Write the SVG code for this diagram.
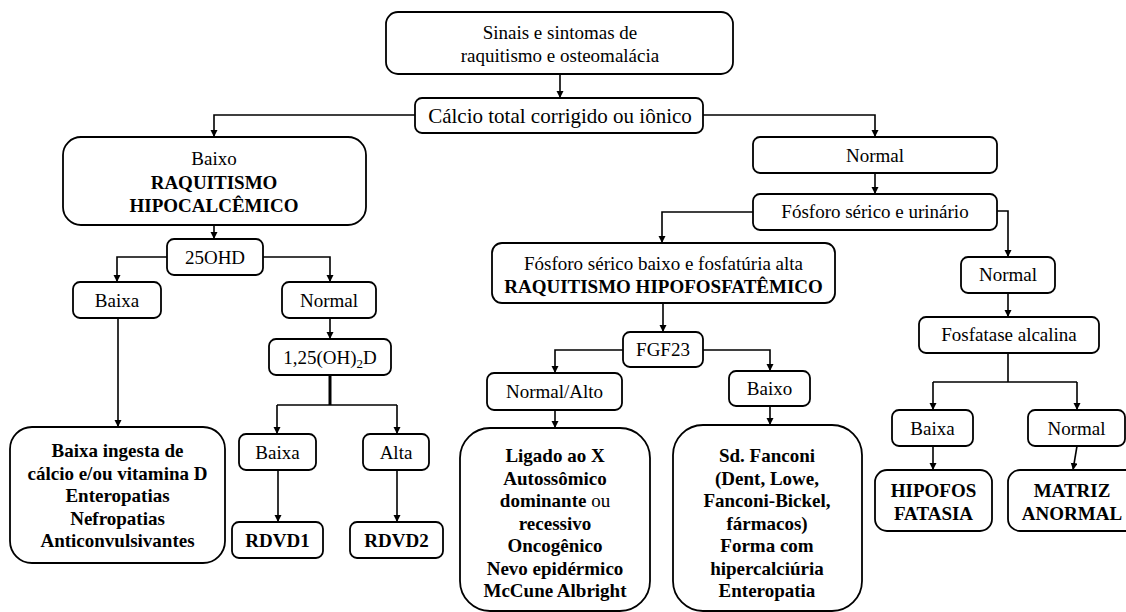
<svg xmlns="http://www.w3.org/2000/svg" width="1126" height="612" viewBox="0 0 1126 612">
<style>
.b{fill:#fff;stroke:#000;stroke-width:1.8}
.t{font-size:19px;fill:#000;text-anchor:middle}
.bd{font-weight:bold}
.c{fill:none;stroke:#000;stroke-width:1.6}
.ca{fill:none;stroke:#000;stroke-width:1.6;marker-end:url(#ah)}
</style>
<defs>
<marker id="ah" markerUnits="userSpaceOnUse" markerWidth="8" markerHeight="8" refX="7" refY="3.5" orient="auto">
<path d="M0,0 L7,3.5 L0,7 z" fill="#000"/>
</marker>
</defs>
<rect width="1126" height="612" fill="#fff"/>
<g id="connectors">
<path class="ca" d="M560,75 V98"/>
<path class="ca" d="M415,115 H214 V137"/>
<path class="ca" d="M703,115 H875 V137"/>
<path class="ca" d="M214,225 V239"/>
<path class="ca" d="M167,257 H117 V282"/>
<path class="ca" d="M263,257 H330 V282"/>
<path class="ca" d="M118,318 V427"/>
<path class="ca" d="M330,318 V339"/>
<path class="c" style="stroke-width:3" d="M330,375 V405"/>
<path class="c" d="M277,405 H397"/>
<path class="ca" d="M277,405 V434"/>
<path class="ca" d="M397,405 V434"/>
<path class="ca" d="M278,470 V522"/>
<path class="ca" d="M397,470 V522"/>
<path class="ca" d="M875,173 V194"/>
<path class="ca" d="M753,212 H662 V243"/>
<path class="ca" d="M997,211 H1008 V257"/>
<path class="ca" d="M663,303 V332"/>
<path class="ca" d="M623,350 H555 V373"/>
<path class="ca" d="M703,350 H770 V371"/>
<path class="ca" d="M555,410 V428"/>
<path class="ca" d="M770,406 V425"/>
<path class="ca" d="M1008,293 V317"/>
<path class="c" d="M1008,353 V382 M933,382 H1077"/>
<path class="ca" d="M933,382 V410"/>
<path class="ca" d="M1077,382 V410"/>
<path class="ca" d="M933,446 V470"/>
<path class="ca" d="M1077,446 L1073,470"/>
</g>
<g font-family="'Liberation Serif', 'DejaVu Serif', 'Times New Roman', serif">
<g id="n-top"><rect class="b" x="386" y="12" width="347" height="62" rx="12"/>
<text class="t" x="560" y="39">Sinais e sintomas de</text><text class="t" x="560" y="62">raquitismo e osteomalácia</text></g>
<g id="n-calcio"><rect class="b" x="415" y="98" width="288" height="35" rx="7"/>
<text class="t" x="560" y="122.5" style="font-size:21px">Cálcio total corrigido ou iônico</text></g>
<g id="n-baixo"><rect class="b" x="63" y="137" width="303" height="88" rx="18"/>
<text class="t" x="214" y="165">Baixo</text><text class="t bd" x="214" y="189">RAQUITISMO</text><text class="t bd" x="214" y="212">HIPOCALCÊMICO</text></g>
<g id="n-25ohd"><rect class="b" x="167" y="239" width="96" height="36" rx="7"/>
<text class="t" x="215" y="264">25OHD</text></g>
<g id="n-baixa1"><rect class="b" x="73" y="282" width="88" height="36" rx="7"/>
<text class="t" x="117" y="307">Baixa</text></g>
<g id="n-normal1"><rect class="b" x="282" y="282" width="94" height="36" rx="7"/>
<text class="t" x="329" y="307">Normal</text></g>
<g id="n-ingesta"><rect class="b" x="10" y="427" width="215" height="136" rx="22"/>
<text class="t bd" x="117.5" y="457">Baixa ingesta de</text><text class="t bd" x="117.5" y="479.5">cálcio e/ou vitamina D</text><text class="t bd" x="117.5" y="502">Enteropatias</text><text class="t bd" x="117.5" y="524.5">Nefropatias</text><text class="t bd" x="117.5" y="547">Anticonvulsivantes</text></g>
<g id="n-125"><rect class="b" x="269" y="339" width="122" height="36" rx="7"/>
<text class="t" x="330" y="364">1,25(OH)<tspan font-size="13" dy="4">2</tspan><tspan dy="-4">D</tspan></text></g>
<g id="n-baixa2"><rect class="b" x="239" y="434" width="77" height="36" rx="7"/>
<text class="t" x="277.5" y="459">Baixa</text></g>
<g id="n-alta"><rect class="b" x="363" y="434" width="66" height="36" rx="7"/>
<text class="t" x="396" y="459">Alta</text></g>
<g id="n-rdvd1"><rect class="b" x="232" y="522" width="91" height="36" rx="7"/>
<text class="t bd" x="277.5" y="547">RDVD1</text></g>
<g id="n-rdvd2"><rect class="b" x="350" y="522" width="93" height="36" rx="7"/>
<text class="t bd" x="396.5" y="547">RDVD2</text></g>
<g id="n-normal-top"><rect class="b" x="753" y="137" width="244" height="36" rx="7"/>
<text class="t" x="875" y="162">Normal</text></g>
<g id="n-fosforo"><rect class="b" x="753" y="194" width="244" height="36" rx="7"/>
<text class="t" x="875" y="218">Fósforo sérico e urinário</text></g>
<g id="n-hipofosfat"><rect class="b" x="492" y="243" width="343" height="60" rx="10"/>
<text class="t" x="663.5" y="270">Fósforo sérico baixo e fosfatúria alta</text><text class="t bd" x="663.5" y="293">RAQUITISMO HIPOFOSFATÊMICO</text></g>
<g id="n-fgf23"><rect class="b" x="623" y="332" width="80" height="35" rx="7"/>
<text class="t" x="663" y="356">FGF23</text></g>
<g id="n-normalalto"><rect class="b" x="487" y="373" width="135" height="37" rx="7"/>
<text class="t" x="554.5" y="398">Normal/Alto</text></g>
<g id="n-baixo2"><rect class="b" x="729" y="371" width="81" height="35" rx="7"/>
<text class="t" x="769.5" y="395">Baixo</text></g>
<g id="n-ligado"><rect class="b" x="460" y="428" width="190" height="183" rx="30"/>
<text class="t bd" x="555" y="462">Ligado ao X</text><text class="t bd" x="555" y="484.5">Autossômico</text><text class="t" x="555" y="507"><tspan class="bd">dominante</tspan> ou</text><text class="t bd" x="555" y="529.5">recessivo</text><text class="t bd" x="555" y="552">Oncogênico</text><text class="t bd" x="555" y="574.5">Nevo epidérmico</text><text class="t bd" x="555" y="597">McCune Albright</text></g>
<g id="n-fanconi"><rect class="b" x="673" y="425" width="189" height="186" rx="30"/>
<text class="t bd" x="767" y="462">Sd. Fanconi</text><text class="t bd" x="767" y="484.5">(Dent, Lowe,</text><text class="t bd" x="767" y="507">Fanconi-Bickel,</text><text class="t bd" x="767" y="529.5">fármacos)</text><text class="t bd" x="767" y="552">Forma com</text><text class="t bd" x="767" y="574.5">hipercalciúria</text><text class="t bd" x="767" y="597">Enteropatia</text></g>
<g id="n-normal-r"><rect class="b" x="961" y="257" width="94" height="36" rx="7"/>
<text class="t" x="1008" y="281">Normal</text></g>
<g id="n-fosfatase"><rect class="b" x="919" y="317" width="180" height="36" rx="7"/>
<text class="t" x="1009" y="341">Fosfatase alcalina</text></g>
<g id="n-baixa3"><rect class="b" x="892" y="410" width="81" height="36" rx="7"/>
<text class="t" x="932.5" y="435">Baixa</text></g>
<g id="n-normal3"><rect class="b" x="1028" y="410" width="97" height="36" rx="7"/>
<text class="t" x="1076.5" y="435">Normal</text></g>
<g id="n-hipofosfatasia"><rect class="b" x="875" y="470" width="117" height="61" rx="12"/>
<text class="t bd" x="933.5" y="497">HIPOFOS</text><text class="t bd" x="933.5" y="520">FATASIA</text></g>
<g id="n-matriz"><rect class="b" x="1008" y="470" width="132" height="61" rx="12"/>
<text class="t bd" x="1072" y="497">MATRIZ</text><text class="t bd" x="1072" y="520">ANORMAL</text></g>
</g>
</svg>
